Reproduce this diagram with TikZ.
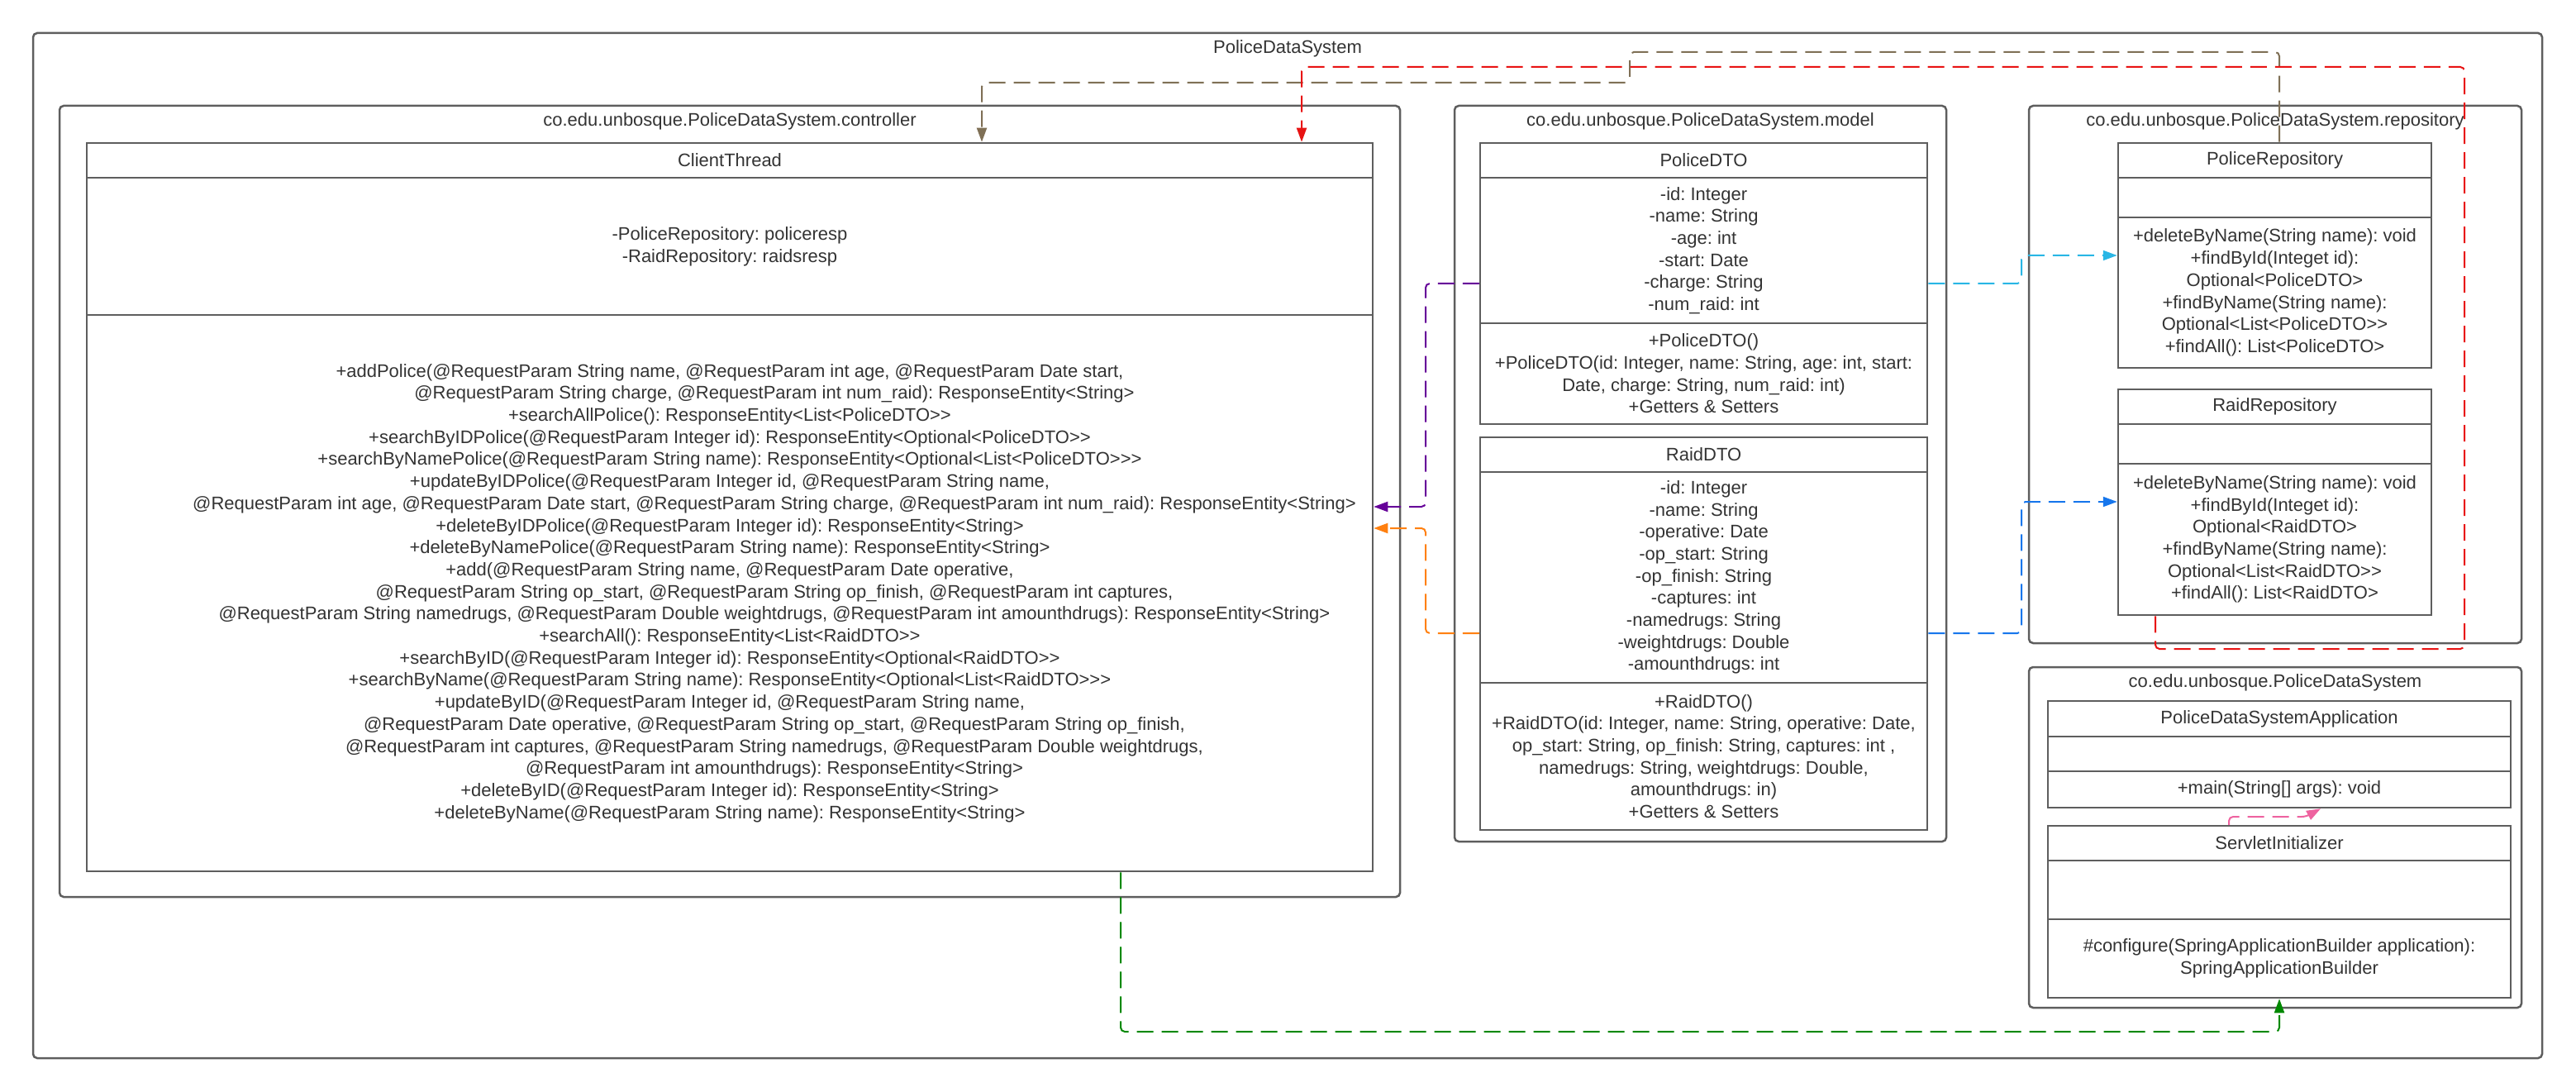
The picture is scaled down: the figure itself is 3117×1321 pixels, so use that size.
\documentclass[tikz,border=0pt]{standalone}
\usepackage{fontspec}
\setmainfont{Liberation Sans}
\usepackage{tikz}
\usetikzlibrary{calc}
\usetikzlibrary{arrows.meta}
\definecolor{LineGray}{RGB}{94,94,94}
\definecolor{TextGray}{RGB}{51,51,51}
\definecolor{DepBrown}{RGB}{127,112,86}
\definecolor{DepRed}{RGB}{232,19,19}
\definecolor{DepPurple}{RGB}{102,0,153}
\definecolor{DepOrange}{RGB}{255,128,16}
\definecolor{DepCyan}{RGB}{41,182,229}
\definecolor{DepBlue}{RGB}{22,118,236}
\definecolor{DepGreen}{RGB}{0,136,0}
\definecolor{DepPink}{RGB}{238,99,160}
\frenchspacing
\newcommand{\umlFont}{\fontsize{22pt}{26.7pt}\selectfont}
\newcommand{\contLine}{\hspace*{108pt}}
\newcommand{\pkgFrame}[5]{%
		\draw [pkg] #1 rectangle #2;
		\node [pkglabel] (#3) at #4 {#5};
}
\tikzset{
	box/.style={draw=LineGray, line width=2.5pt, inner sep=0pt, align=center, text=TextGray, font=\umlFont},
	pkg/.style={draw=LineGray, line width=2.5pt, rounded corners=5pt},
	pkglabel/.style={inner sep=0pt, text=TextGray, font=\umlFont},
	dep/.style={line width=2pt, dash pattern=on 20pt off 10pt, rounded corners=5pt, -{Triangle[length=17pt,width=12pt]}},
}
\begin{document}
\begin{tikzpicture}[x=1pt, y=-1pt]
	
		\useasboundingbox (0,0) rectangle (3117,1321);
		
		\draw [pkg] (40,40) rectangle (3076,1280);
		\node [pkglabel] (sysLabel) at (1558,59) {PoliceDataSystem};
		
		\pkgFrame{(72,128)}{(1694,1085)}{ctlLabel}{(883,147)}{co.edu.unbosque.PoliceDataSystem.controller}
		\pkgFrame{(1760,128)}{(2355,1018)}{mdlLabel}{(2057.5,147)}{co.edu.unbosque.PoliceDataSystem.model}
		\pkgFrame{(2455,128)}{(3051,778)}{repLabel}{(2753,147)}{co.edu.unbosque.PoliceDataSystem.repository}
		\pkgFrame{(2455,807)}{(3051,1219)}{appLabel}{(2753,826)}{co.edu.unbosque.PoliceDataSystem}
		
		% controller
		\node [box, minimum width=1556pt, minimum height=42pt] (ctHead) at (883,194) {ClientThread};
		\node [box, minimum width=1556pt, minimum height=166pt] (ctAttr) at (883,298) {-PoliceRepository: policeresp\\-RaidRepository: raidsresp};
		\node [box, minimum width=1556pt, minimum height=673pt] (ctMeth) at (883,717.5) {%
			+addPolice(@RequestParam String name, @RequestParam int age, @RequestParam Date start,\\
			\contLine@RequestParam String charge, @RequestParam int num\_raid): ResponseEntity<String>\\
			+searchAllPolice(): ResponseEntity<List<PoliceDTO>{}>\\
			+searchByIDPolice(@RequestParam Integer id): ResponseEntity<Optional<PoliceDTO>{}>\\
			+searchByNamePolice(@RequestParam String name): ResponseEntity<Optional<List<PoliceDTO>{}>{}>\\
			+updateByIDPolice(@RequestParam Integer id, @RequestParam String name,\\
			\contLine@RequestParam int age, @RequestParam Date start, @RequestParam String charge, @RequestParam int num\_raid): ResponseEntity<String>\\
			+deleteByIDPolice(@RequestParam Integer id): ResponseEntity<String>\\
			+deleteByNamePolice(@RequestParam String name): ResponseEntity<String>\\
			+add(@RequestParam String name, @RequestParam Date operative,\\
			\contLine@RequestParam String op\_start, @RequestParam String op\_finish, @RequestParam int captures,\\
			\contLine@RequestParam String namedrugs, @RequestParam Double weightdrugs, @RequestParam int amounthdrugs): ResponseEntity<String>\\
			+searchAll(): ResponseEntity<List<RaidDTO>{}>\\
			+searchByID(@RequestParam Integer id): ResponseEntity<Optional<RaidDTO>{}>\\
			+searchByName(@RequestParam String name): ResponseEntity<Optional<List<RaidDTO>{}>{}>\\
			+updateByID(@RequestParam Integer id, @RequestParam String name,\\
			\contLine@RequestParam Date operative, @RequestParam String op\_start, @RequestParam String op\_finish,\\
			\contLine@RequestParam int captures, @RequestParam String namedrugs, @RequestParam Double weightdrugs,\\
			\contLine@RequestParam int amounthdrugs): ResponseEntity<String>\\
			+deleteByID(@RequestParam Integer id): ResponseEntity<String>\\
			+deleteByName(@RequestParam String name): ResponseEntity<String>};
		
		% model
		\node [box, minimum width=541pt, minimum height=42pt] (pdHead) at (2061.5,194) {PoliceDTO};
		\node [box, minimum width=541pt, minimum height=176pt] (pdAttr) at (2061.5,303) {-id: Integer\\-name: String\\-age: int\\-start: Date\\-charge: String\\-num\_raid: int};
		\node [box, minimum width=541pt, minimum height=122pt] (pdMeth) at (2061.5,452) {+PoliceDTO()\\+PoliceDTO(id: Integer, name: String, age: int, start:\\Date, charge: String, num\_raid: int)\\+Getters \& Setters};
		
		\node [box, minimum width=541pt, minimum height=42pt] (rdHead) at (2061.5,550) {RaidDTO};
		\node [box, minimum width=541pt, minimum height=255pt] (rdAttr) at (2061.5,698.5) {-id: Integer\\-name: String\\-operative: Date\\-op\_start: String\\-op\_finish: String\\-captures: int\\-namedrugs: String\\-weightdrugs: Double\\-amounthdrugs: int};
		\node [box, minimum width=541pt, minimum height=178pt] (rdMeth) at (2061.5,915) {+RaidDTO()\\+RaidDTO(id: Integer, name: String, operative: Date,\\op\_start: String, op\_finish: String, captures: int ,\\namedrugs: String, weightdrugs: Double,\\amounthdrugs: in)\\+Getters \& Setters};
		
		% repository
		\node [box, minimum width=379pt, minimum height=42pt] (prHead) at (2752.5,194) {PoliceRepository};
		\node [box, minimum width=379pt, minimum height=48pt] (prAttr) at (2752.5,239) {};
		\node [box, minimum width=379pt, minimum height=182pt] (prMeth) at (2752.5,354) {+deleteByName(String name): void\\+findById(Integet id):\\Optional<PoliceDTO>\\+findByName(String name):\\Optional<List<PoliceDTO>{}>\\+findAll(): List<PoliceDTO>};
		
		\node [box, minimum width=379pt, minimum height=42pt] (rrHead) at (2752.5,492) {RaidRepository};
		\node [box, minimum width=379pt, minimum height=48pt] (rrAttr) at (2752.5,537) {};
		\node [box, minimum width=379pt, minimum height=183pt] (rrMeth) at (2752.5,652.5) {+deleteByName(String name): void\\+findById(Integet id):\\Optional<RaidDTO>\\+findByName(String name):\\Optional<List<RaidDTO>{}>\\+findAll(): List<RaidDTO>};
		
		% application
		\node [box, minimum width=560pt, minimum height=43pt] (apHead) at (2758,869.5) {PoliceDataSystemApplication};
		\node [box, minimum width=560pt, minimum height=42pt] (apAttr) at (2758,912) {};
		\node [box, minimum width=560pt, minimum height=44pt] (apMeth) at (2758,955) {+main(String[] args): void};
		
		\node [box, minimum width=560pt, minimum height=42pt] (siHead) at (2758,1020) {ServletInitializer};
		\node [box, minimum width=560pt, minimum height=71pt] (siAttr) at (2758,1076.5) {};
		\node [box, minimum width=560pt, minimum height=95pt] (siMeth) at (2758,1159.5) {\#configure(SpringApplicationBuilder application):\\SpringApplicationBuilder};
		
		\coordinate (brownHigh) at (1972,63);
		\coordinate (brownLow) at (1972,100);
		\coordinate (redLow) at (2982,785);
		\coordinate (redHigh) at (2982,81);
		\coordinate (purpleBend) at (1725,613);
		\coordinate (orangeBend) at (1725,639);
		\coordinate (cyanBend) at (2446,309);
		\coordinate (blueBend) at (2446,607);
		\coordinate (greenBend) at (2758,1248);
		\coordinate (pinkBend) at (2790,988);
		
		\draw [dep, DepBrown] ([xshift=5.5pt]prHead.north) |- (brownHigh) -- (brownLow) -| ([xshift=305pt]ctHead.north); %pr
		\draw [dep, DepRed] ([xshift=-144.5pt]rrMeth.south) |- (redLow) -- (redHigh) -| ([xshift=692pt]ctHead.north); %rr
		\draw [dep, DepPurple] ([yshift=-40pt]pdAttr.west) -| (purpleBend) -- ([yshift=104.5pt]ctMeth.east); %pd
		\draw [dep, DepOrange] ([yshift=-67.5pt]rdAttr.west) -| (orangeBend) -- ([yshift=78.5pt]ctMeth.east); %rd
		\draw [dep, DepCyan] ([yshift=-40pt]pdAttr.east) -| (cyanBend) -- ([yshift=45pt]prMeth.west); %pd
		\draw [dep, DepBlue] ([yshift=-67.5pt]rdAttr.east) -| (blueBend) -- ([yshift=45.5pt]rrMeth.west); %rd
		\draw [dep, DepGreen] ([xshift=473pt]ctMeth.south) |- (greenBend) -- (siMeth.south); %ct
		\draw [dep, DepPink] ([xshift=-61pt]siHead.north) |- (pinkBend) -- ([xshift=50pt]apMeth.south); %si
	\end{tikzpicture}
\end{document}
